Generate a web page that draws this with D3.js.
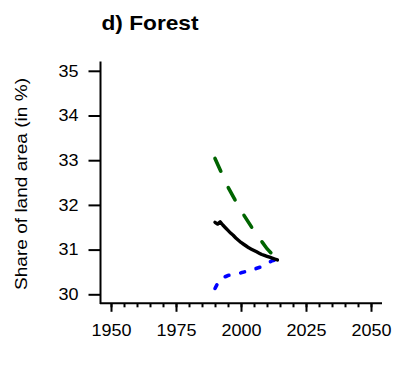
<!DOCTYPE html>
<html>
<head>
<meta charset="utf-8">
<script src="https://cdn.jsdelivr.net/npm/d3@7"></script>
<style>
  body { margin: 0; background: #fff; }
  text { font-family: "Liberation Sans", Arial, sans-serif; fill: #000; }
</style>
</head>
<body>
<div id="chart"></div>
<script>
// data
var histYears = [1990,1991,1992,1993,1994,1995,1996,1997,1998,1999,2000,2001,2002,2003,2004,2005,2006,2007,2008,2009,2010,2011,2012,2013,2014];
var histValues = [31.61,31.57,31.62,31.55,31.49,31.43,31.37,31.32,31.26,31.21,31.16,31.12,31.08,31.04,31.01,30.98,30.95,30.92,30.89,30.87,30.85,30.83,30.81,30.79,30.77];
var greenYears = [1990,1995,2000,2005,2010,2014];
var greenValues = [33.04,32.40,31.87,31.42,31.02,30.78];
var blueYears = [1990,1991,1992,1993,1995,2000,2005,2008,2010,2012,2014];
var blueValues = [30.13,30.24,30.32,30.37,30.42,30.48,30.56,30.62,30.69,30.75,30.78];
var xTicks = [1950,1975,2000,2025,2050];
var xMinor = d3.range(1950, 2051, 5);
var yTicks = [30,31,32,33,34,35];

var W = 394, H = 374;
var svg = d3.select("#chart").append("svg").attr("width", W).attr("height", H);

var x = d3.scaleLinear().domain([1950, 2050]).range([111, 371]);
var y = d3.scaleLinear().domain([30, 35]).range([294.3, 70.8]);

// title
svg.append("text")
  .attr("x", 101.5).attr("y", 30)
  .style("font-size", "21px").style("font-weight", "bold")
  .attr("textLength", 97).attr("lengthAdjust", "spacingAndGlyphs")
  .text("d) Forest");

// y label
svg.append("text")
  .attr("transform", "translate(27,184) rotate(-90)")
  .attr("text-anchor", "middle")
  .style("font-size", "16.5px")
  .attr("textLength", 212).attr("lengthAdjust", "spacingAndGlyphs")
  .text("Share of land area (in %)");

// axes lines (L box)
svg.append("line").attr("x1", 100.5).attr("x2", 100.5).attr("y1", 61.5).attr("y2", 304)
  .attr("stroke", "#000").attr("stroke-width", 2);
svg.append("line").attr("x1", 100).attr("x2", 382).attr("y1", 303.3).attr("y2", 303.3)
  .attr("stroke", "#000").attr("stroke-width", 2);

// y axis
var yAxis = svg.append("g").attr("transform", "translate(100.5,0)")
  .call(d3.axisLeft(y).tickValues(yTicks).tickSize(12).tickPadding(10).tickFormat(d3.format("d")));
yAxis.select(".domain").remove();
yAxis.selectAll("line").attr("stroke-width", 2);
yAxis.selectAll("text").style("font-size", "16.5px").attr("font-family", null)
  .attr("textLength", 20).attr("lengthAdjust", "spacingAndGlyphs");

// x axis minor ticks
var xMin = svg.append("g").attr("transform", "translate(0,303.3)")
  .call(d3.axisBottom(x).tickValues(xMinor).tickSize(4).tickFormat(""));
xMin.select(".domain").remove();
xMin.selectAll("line").attr("stroke-width", 2);

// x axis major ticks
var xAxis = svg.append("g").attr("transform", "translate(0,303.3)")
  .call(d3.axisBottom(x).tickValues(xTicks).tickSize(8.5).tickPadding(12).tickFormat(d3.format("d")));
xAxis.select(".domain").remove();
xAxis.selectAll("line").attr("stroke-width", 2);
xAxis.selectAll("text").style("font-size", "16.5px").attr("font-family", null)
  .attr("textLength", 40).attr("lengthAdjust", "spacingAndGlyphs");

// lines
var line = d3.line().x(function(d){ return x(d[0]); }).y(function(d){ return y(d[1]); });

svg.append("path")
  .datum(d3.zip(greenYears, greenValues))
  .attr("d", line).attr("fill", "none")
  .attr("stroke", "#006400").attr("stroke-width", 3.6)
  .attr("stroke-linecap", "round").attr("stroke-dasharray", "14,18");

svg.append("path")
  .datum(d3.zip(blueYears, blueValues))
  .attr("d", line).attr("fill", "none")
  .attr("stroke", "#0000ff").attr("stroke-width", 3.6)
  .attr("stroke-linecap", "round").attr("stroke-dasharray", "4,12");

svg.append("path")
  .datum(d3.zip(histYears, histValues))
  .attr("d", line).attr("fill", "none")
  .attr("stroke", "#000").attr("stroke-width", 3.4)
  .attr("stroke-linecap", "round").attr("stroke-linejoin", "round");
</script>
</body>
</html>
